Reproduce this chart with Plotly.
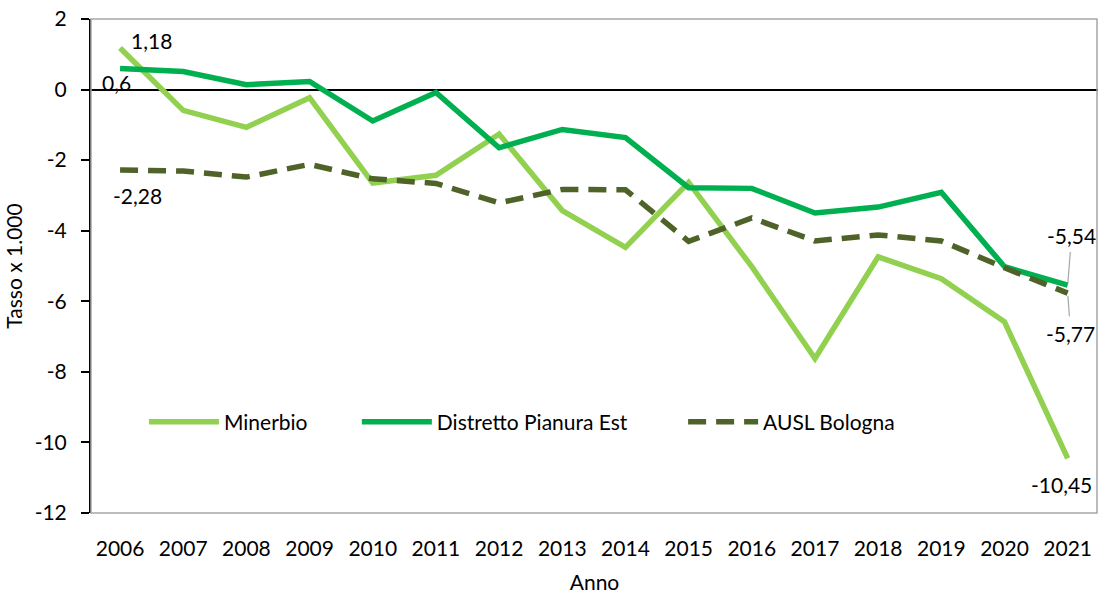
import plotly.graph_objects as go

years = list(range(2006, 2022))
minerbio = [1.18, -0.59, -1.07, -0.23, -2.65, -2.43, -1.26, -3.43, -4.47, -2.63,
            -5.02, -7.62, -4.74, -5.36, -6.58, -10.45]
distretto = [0.60, 0.51, 0.14, 0.23, -0.89, -0.08, -1.65, -1.13, -1.36, -2.78,
             -2.80, -3.50, -3.33, -2.91, -5.02, -5.54]
ausl = [-2.28, -2.31, -2.48, -2.12, -2.53, -2.66, -3.21, -2.83, -2.84, -4.30,
        -3.64, -4.29, -4.12, -4.29, -5.05, -5.77]
y_ticks = [-12, -10, -8, -6, -4, -2, 0, 2]
y_ticktext = [str(v) for v in y_ticks]

FONT = "Lato"
def fmt(v):
    return f"{v:g}".replace(".", ",")

fig = go.Figure()
fig.add_trace(go.Scatter(x=years, y=minerbio, mode="lines", name="Minerbio",
                         line=dict(color="#92D050", width=5.5), legend="legend"))
fig.add_trace(go.Scatter(x=years, y=distretto, mode="lines", name="Distretto Pianura Est",
                         line=dict(color="#00B050", width=5.5), legend="legend2"))
fig.add_trace(go.Scatter(x=years, y=ausl, mode="lines", name="AUSL Bologna",
                         line=dict(color="#4F6228", width=5.5, dash="18px,10px"),
                         legend="legend3"))

lab_font = dict(family=FONT, size=21, color="black")
anns = [
    dict(x=years[0], y=minerbio[0], text=fmt(minerbio[0]), showarrow=False, xshift=31, yshift=7),
    dict(x=years[0], y=distretto[0], text=fmt(distretto[0]), showarrow=False, xshift=-4, yshift=-14),
    dict(x=years[0], y=ausl[0], text=fmt(ausl[0]), showarrow=False, xshift=17, yshift=-25),
    dict(x=years[-1], y=minerbio[-1], text=fmt(minerbio[-1]), showarrow=False, xshift=-6, yshift=-26),
    dict(x=years[-1], y=distretto[-1], text=fmt(distretto[-1]), showarrow=True, ax=4, ay=-50,
         arrowhead=0, arrowwidth=1.2, arrowcolor="#A6A6A6", standoff=2, borderpad=4),
    dict(x=years[-1], y=ausl[-1], text=fmt(ausl[-1]), showarrow=True, ax=3, ay=40,
         arrowhead=0, arrowwidth=1.2, arrowcolor="#A6A6A6", standoff=3, borderpad=4),
]
for a in anns:
    a.update(xref="x", yref="y", font=lab_font)
    if not a["showarrow"]:
        a.update(xanchor="center", yanchor="middle")
    fig.add_annotation(**a)

# plot area border
fig.add_shape(type="rect", xref="paper", yref="paper", x0=0, x1=0.999, y0=0, y1=1,
              line=dict(color="#A6A6A6", width=1.5), layer="above")

leg_common = dict(orientation="h", xanchor="left", y=0.184, yanchor="middle",
                  bgcolor="rgba(0,0,0,0)", font=dict(family=FONT, size=21, color="black"),
                  itemwidth=70)

fig.update_layout(
    width=1099, height=594,
    margin=dict(l=91, r=1, t=19, b=81, autoexpand=False),
    paper_bgcolor="white", plot_bgcolor="white",
    font=dict(family=FONT, size=21, color="black"),
    showlegend=True,
    legend=dict(x=0.0526, **leg_common),
    legend2=dict(x=0.264, **leg_common),
    legend3=dict(x=0.588, **leg_common),
    xaxis=dict(range=[2005.54, 2021.48], tickmode="array", tickvals=years,
               ticktext=[str(y) for y in years], showgrid=False, zeroline=False,
               showline=False, ticks="", ticklabelstandoff=21, automargin=False,
               title=dict(text="Anno", standoff=35, font=dict(family=FONT, size=21))),
    yaxis=dict(range=[-12, 2], tickmode="array", tickvals=y_ticks, ticktext=y_ticktext,
               showgrid=False, zeroline=True, zerolinecolor="black", zerolinewidth=2,
               showline=True, linecolor="black", linewidth=2, ticks="outside",
               ticklen=8, tickcolor="black", tickwidth=1.5, ticklabelstandoff=10,
               automargin=False,
               title=dict(text="Tasso x 1.000", standoff=6, font=dict(family=FONT, size=21))),
)

fig.write_html("out.html", config={"displayModeBar": False},
               post_script="document.body.style.margin='0';document.body.style.overflow='hidden';")
